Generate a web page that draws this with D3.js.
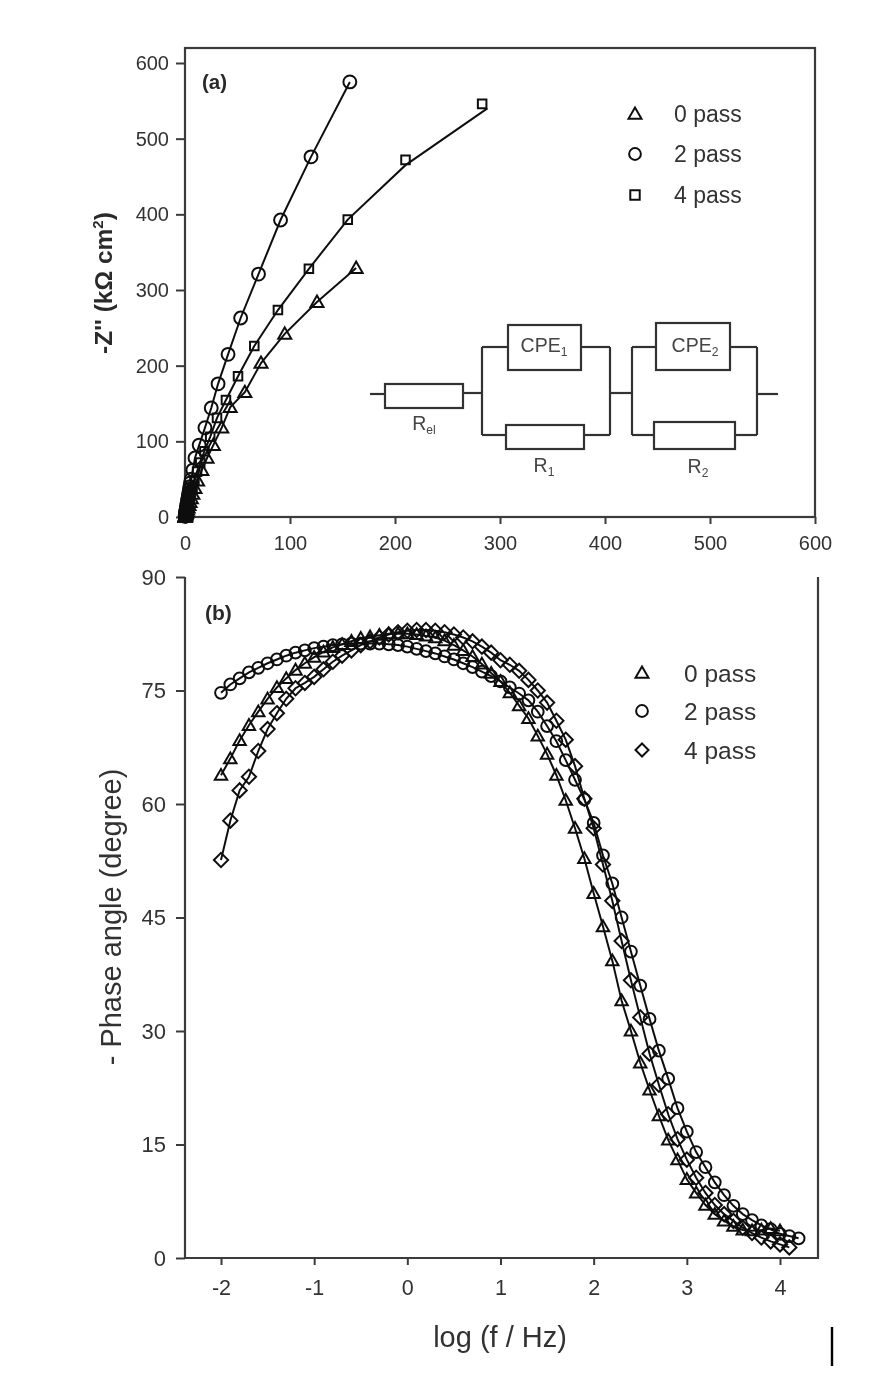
<!DOCTYPE html>
<html><head><meta charset="utf-8">
<script src="https://cdn.jsdelivr.net/npm/d3@7"></script>
<style>html,body{margin:0;padding:0;background:#fff}svg{display:block}text{font-family:"Liberation Sans",Arial,sans-serif;fill:#2a2a2a}</style>
</head><body><div id="chart"></div>
<script>
// ---------- Panel (a): Nyquist ----------
const nyquistTicksX = [0,100,200,300,400,500,600];
const nyquistTicksY = [0,100,200,300,400,500,600];
const pass0Zre = [163,125.7,95,72.4,57,43,35,27,21,16,12,9.5,7.5,6,4.8,3.8,3,2.4,1.9,1.5,1.2,0.9,0.7,0.5,0.4,0.3,0.2,0.1,0.1,0.05];
const pass0Zim = [329,284,242,203.5,165,145,118,95,78,62,48,38,30.5,24.5,19.5,15.5,12.3,9.8,7.8,6.2,4.9,3.8,3,2.2,1.6,1.1,0.7,0.4,0.2,0.1];
const pass2Zre = [157,120,91,70,53,41,31.5,25,19,13.5,9.5,7.5,6,5.2,4.7,4.2,3.7,3.3,3,2.7,2.4,2.1,1.9,1.7,1.5,1.3,1.2,1,0.9,0.7,0.5,0.4,0.3,0.2,0.1];
const pass2Zim = [575,476,392.5,321,263,215,176,144,118,95,78,62,50,45,40,36,32,28.5,25.5,23,20.5,18.5,16.5,14.7,13,11.7,10.5,9.3,8.3,6.5,5,3.8,2.8,1.8,1];
const pass4Zre = [283,210,155,118,88.5,66,50.5,39,30.5,24,18.5,14.5,11.5,9,7.2,6.4,5.7,5,4.5,4,3.6,3.2,2.9,2.6,2.3,2,1.8,1.4,1.1,0.8,0.6,0.4,0.3,0.2];
const pass4Zim = [546,472,393,328,273.5,226,186,154.6,131,106,87,72,60,49,40,36.5,33,30,27,24.5,22,20,18,16.2,14.5,13,11.7,9.4,7.5,5.8,4.5,3.4,2.5,1.7];
const fit4Zre = [288,210,155,118,88.5,66,50.5,39,30.5,24,18.5,14.5,11.5,9,7.2,5.7,4.5,3.6,2.9,2.3,1.8,1.4,1.1,0.8,0.6,0.4,0.3,0.2];
const fit4Zim = [540,465,393,328,273.5,226,186,154.6,131,106,87,72,60,49,40,33,27,22,18,14.5,11.7,9.4,7.5,5.8,4.5,3.4,2.5,1.7];
const legendA = ["0 pass","2 pass","4 pass"];

// ---------- Panel (b): Bode phase ----------
const bodeTicksX = [-2,-1,0,1,2,3,4];
const bodeTicksY = [0,15,30,45,60,75,90];
const logF = [-2,-1.9,-1.8,-1.7,-1.6,-1.5,-1.4,-1.3,-1.2,-1.1,-1,-0.9,-0.8,-0.7,-0.6,-0.5,-0.4,-0.3,-0.2,-0.1,0,0.1,0.2,0.3,0.4,0.5,0.6,0.7,0.8,0.9,1,1.1,1.2,1.3,1.4,1.5,1.6,1.7,1.8,1.9,2,2.1,2.2,2.3,2.4,2.5,2.6,2.7,2.8,2.9,3,3.1,3.2,3.3,3.4,3.5,3.6,3.7,3.8,3.9,4,4.1,4.2];
const phase0 = [63.8,66,68.4,70.4,72.2,73.9,75.4,76.6,77.7,78.6,79.4,80.1,80.7,81.1,81.5,81.9,82.1,82.3,82.5,82.5,82.5,82.4,82.2,82,81.6,81,80.3,79.5,78.5,77.3,76.2,74.7,73,71.3,69,66.6,63.8,60.5,56.8,52.8,48.2,43.8,39.3,34,30,25.8,22.2,18.8,15.6,13,10.4,8.6,7,5.8,4.9,4.2,3.7,3.6,3.7,3.9,3.6];
const phase2 = [74.7,75.8,76.6,77.4,78,78.6,79.1,79.6,80,80.3,80.6,80.8,81,81.1,81.2,81.2,81.2,81.2,81.1,81,80.8,80.5,80.2,79.9,79.5,79.1,78.6,78.1,77.5,76.9,76.2,75.4,74.6,73.7,72.2,70.3,68.3,65.8,63.2,60.6,57.5,53.2,49.5,45,40.5,36,31.6,27.4,23.7,19.8,16.7,14,12,10,8.3,6.9,5.8,5,4.3,3.8,3.2,2.9,2.6];
const phase4 = [52.6,57.8,61.8,63.6,67,69.9,72,73.9,75.3,76,76.8,77.8,78.8,79.6,80.3,81,81.5,82,82.4,82.7,82.9,83,83,82.9,82.7,82.4,82,81.5,80.8,80,79,78.4,77.6,76.4,75,73.4,71,68.5,65,60.7,56.8,52,47.2,41.9,36.7,31.8,27,22.9,19,15.7,13,10.6,8.6,7,5.8,4.9,4,3.3,2.7,2.2,1.8,1.4];
const legendB = ["0 pass","2 pass","4 pass"];

const svg = d3.select("#chart").append("svg").attr("width",888).attr("height",1400);
const defs = svg.append("defs");
defs.append("filter").attr("id","soft").attr("filterUnits","userSpaceOnUse")
  .attr("x",0).attr("y",0).attr("width",888).attr("height",1400)
  .append("feGaussianBlur").attr("stdDeviation",0.6);
const root = svg.append("g").attr("filter","url(#soft)");
root.append("rect").attr("width",888).attr("height",1400).attr("fill","#fff");

const INK = "#111";
const AXIS = "#3a3a3a";
const TXT = "#333";
const symbols = {
  tri: s => `M0,${-s*0.62}L${s*0.62},${s*0.46}L${-s*0.62},${s*0.46}Z`,
  circle: s => {const r=s*0.56;return `M${r},0A${r},${r} 0 1,1 ${-r},0A${r},${r} 0 1,1 ${r},0Z`;},
  square: s => `M${-s*0.45},${-s*0.45}H${s*0.45}V${s*0.45}H${-s*0.45}Z`,
  diamond: s => `M0,${-s*0.62}L${s*0.62},0L0,${s*0.62}L${-s*0.62},0Z`
};

function drawSeries(g, xs, ys, fx, fy, sym, size, lx, ly){
  const line = d3.line().x((d,i)=>fx(lx?lx[i]:xs[i])).y(d=>fy(d));
  g.append("path").datum(ly||ys).attr("d",line).attr("fill","none").attr("stroke",INK).attr("stroke-width",2);
  g.selectAll(null).data(ys).join("path")
    .attr("transform",(d,i)=>`translate(${fx(xs[i])},${fy(d)})`)
    .attr("d",symbols[sym](size)).attr("fill","none").attr("stroke",INK).attr("stroke-width",2);
}
function styleAxis(sel, fs){
  sel.selectAll("path").remove();
  sel.selectAll("line").attr("stroke",AXIS).attr("stroke-width",2);
  sel.selectAll("text").attr("font-size",fs).style("fill",TXT);
}
function legend(g, items, syms, xSym, xText, ys, fs, size){
  items.forEach((t,i)=>{
    g.append("path").attr("transform",`translate(${xSym},${ys[i]})`).attr("d",symbols[syms[i]](size))
      .attr("fill","none").attr("stroke",INK).attr("stroke-width",2);
    g.append("text").attr("x",xText).attr("y",ys[i]+fs*0.36).attr("font-size",fs).text(t).style("fill",TXT);
  });
}

// ---- panel a ----
const xA = d3.scaleLinear().domain([0,600]).range([185,815]);
const yA = d3.scaleLinear().domain([0,600]).range([517,63]);
const gA = root.append("g");
gA.append("rect").attr("x",185).attr("y",48).attr("width",630).attr("height",469).attr("fill","none").attr("stroke",AXIS).attr("stroke-width",2.2);
gA.append("g").attr("transform","translate(185,0)").call(d3.axisLeft(yA).tickValues(nyquistTicksY).tickSize(9).tickPadding(7).tickFormat(d3.format("d"))).call(styleAxis,20);
gA.append("g").attr("transform","translate(0,517)").call(d3.axisBottom(xA).tickValues(nyquistTicksX).tickSize(7).tickPadding(12).tickFormat(d3.format("d"))).call(styleAxis,20);
drawSeries(gA,pass0Zre,pass0Zim,xA,yA,"tri",10.5);
drawSeries(gA,pass2Zre,pass2Zim,xA,yA,"circle",11.5);
drawSeries(gA,pass4Zre,pass4Zim,xA,yA,"square",9.5,fit4Zre,fit4Zim);
gA.append("text").attr("x",202).attr("y",89).attr("font-size",20.5).attr("font-weight","bold").text("(a)");
legend(gA,legendA,["tri","circle","square"],635,674,[114,154,195],23,10.5);

const ylA = gA.append("text").attr("transform","translate(112,283) rotate(-90)").attr("text-anchor","middle").attr("font-size",24.5).attr("font-weight","bold");
ylA.append("tspan").text("-Z'' (kΩ cm");
ylA.append("tspan").attr("dy",-9).attr("font-size",15).text("2");
ylA.append("tspan").attr("dy",9).text(")");

// circuit diagram
const cir = gA.append("g").attr("fill","none").attr("stroke","#333").attr("stroke-width",2.2);
[[370,394,385,394],[463,393,482,393],[482,347,482,435],[482,347,508,347],[581,347,610,347],[610,347,610,435],[482,435,506,435],[584,435,610,435],
 [610,393,632,393],[632,347,632,435],[632,347,656,347],[730,347,757,347],[757,347,757,435],[632,435,654,435],[735,435,757,435],[757,394,778,394]]
 .forEach(s=>cir.append("line").attr("x1",s[0]).attr("y1",s[1]).attr("x2",s[2]).attr("y2",s[3]));
[[385,384,78,24],[508,325,73,45],[506,425,78,24],[656,323,74,47],[654,422,81,27]]
 .forEach(b=>cir.append("rect").attr("x",b[0]).attr("y",b[1]).attr("width",b[2]).attr("height",b[3]));
function cirLabel(x,y,main,sub,fs){
  const t = gA.append("text").attr("x",x).attr("y",y).attr("text-anchor","middle").attr("font-size",fs).style("fill","#444");
  t.append("tspan").text(main);
  t.append("tspan").attr("dy",4).attr("font-size",fs*0.62).text(sub);
}
cirLabel(544,352,"CPE","1",19.5);
cirLabel(695,352,"CPE","2",19.5);
cirLabel(424,430,"R","el",19.5);
cirLabel(544,472,"R","1",19.5);
cirLabel(698,473,"R","2",19.5);

// ---- panel b ----
const xB = d3.scaleLinear().domain([-2,4]).range([221,780]);
const yB = d3.scaleLinear().domain([0,90]).range([1258,577]);
const gB = root.append("g");
gB.append("path").attr("d","M185,577V1258H818V577").attr("fill","none").attr("stroke",AXIS).attr("stroke-width",2.2);
gB.append("g").attr("transform","translate(185,0)").call(d3.axisLeft(yB).tickValues(bodeTicksY).tickSize(9).tickPadding(10).tickFormat(d3.format("d"))).call(styleAxis,22);
gB.append("g").attr("transform","translate(0,1258)").call(d3.axisBottom(xB).tickValues(bodeTicksX).tickSize(7).tickPadding(15).tickFormat(d=>d)).call(styleAxis,21.5);
drawSeries(gB,logF.slice(0,phase0.length),phase0,xB,yB,"tri",10);
drawSeries(gB,logF.slice(0,phase4.length),phase4,xB,yB,"diamond",11.5);
drawSeries(gB,logF.slice(0,phase2.length),phase2,xB,yB,"circle",10.5);
gB.append("text").attr("x",205).attr("y",620).attr("font-size",21).attr("font-weight","bold").text("(b)");
legend(gB,legendB,["tri","circle","diamond"],642,684,[673,711,750],24.5,10.5);
gB.append("text").attr("transform","translate(121,917) rotate(-90)").attr("text-anchor","middle").attr("font-size",29).text("- Phase angle (degree)").style("fill",TXT);
gB.append("text").attr("x",500).attr("y",1347).attr("text-anchor","middle").attr("font-size",29).text("log (f / Hz)").style("fill",TXT);

// stray rule at the page edge in the source scan
root.append("line").attr("x1",832).attr("x2",832).attr("y1",1327).attr("y2",1366).attr("stroke","#000").attr("stroke-width",2.4);
</script></body></html>
